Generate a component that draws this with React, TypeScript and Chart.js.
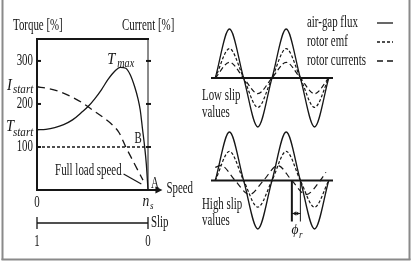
import React, { useEffect, useRef } from "react";
import { Chart, registerables } from "chart.js";
Chart.register(...registerables);

const W = 412;
const H = 262;
const SERIF = '"Liberation Serif", "DejaVu Serif", serif';
const INK = "#161616";
const FRAME = "#8a8a8a";

// ---------- torque / current vs speed ----------
const speedPct = [0, 8, 16, 24, 32, 40, 46, 52, 58, 64, 70, 75, 80, 84, 88, 91, 93, 95, 97, 98.5, 100];
const torquePct = [140, 141, 145, 152, 163, 180, 194, 212, 233, 257, 276, 285, 283, 268, 240, 212, 186, 143, 100, 60, 0];
const currentSpeedPct = [0, 10, 20, 30, 40, 50, 60, 68, 74, 80, 86, 91, 95.5];
const currentPct = [240, 236, 229, 218, 204, 186, 168, 151, 133, 100, 70, 45, 23];
const fullLoadSpeedRange = [0, 100];
const fullLoadTorque = 100;
const leftTicks = [100, 200, 300];
const rightTicks = [100, 200, 300];
const speedAxisEnd = 113;
const pointerFrom = { x: 78, y: 37 };
const pointerTo = { x: 94, y: 14 };
const slipTicks = ["1", "0"];

// ---------- rotor field waveforms ----------
const quarterTurns = [0, 1, 2, 3, 4, 5, 6, 7, 8];
const fluxLow = [0, 100, 0, -100, 0, 100, 0, -100, 0];
const emfLow = [0, 60, 0, -60, 0, 60, 0, -60, 0];
const currentLow = [0, 32, 0, -32, 0, 32, 0, -32, 0];
const fluxHigh = [0, 100, 0, -100, 0, 100, 0, -100, 0];
const emfHigh = [0, 60, 0, -55, 0, 60, 0, -55, 0];
const currentHighTurns = [0, 0.4, 1.4, 2.4, 3.4, 4.4, 5.4, 6.4, 7.4, 7.8];
const currentHigh = [27, 31, 0, -29, 0, 31, 0, -29, 0, 17];
const phaseMarks = [5.4, 6];
const legendLabels = ["air-gap flux", "rotor emf", "rotor currents"];
const legendDashes = [[], [3, 2], [6, 4]];

const pts = (xs: number[], ys: number[]) => xs.map((x, i) => ({ x, y: ys[i] }));

function txt(ctx: CanvasRenderingContext2D, s: string, x: number, y: number, o: any = {}) {
  const size = o.size ?? 16;
  const sx = o.sx ?? 0.68;
  const align = o.align ?? "left";
  ctx.save();
  ctx.font = `${o.italic ? "italic " : ""}${size}px ${SERIF}`;
  ctx.textBaseline = "middle";
  ctx.fillStyle = INK;
  const w = ctx.measureText(s).width * sx;
  const left = align === "left" ? x : align === "center" ? x - w / 2 : x - w;
  ctx.translate(left, y);
  ctx.scale(sx, 1);
  ctx.fillText(s, 0, 0);
  ctx.restore();
  return w;
}

function seg(ctx: CanvasRenderingContext2D, x1: number, y1: number, x2: number, y2: number, w = 1, dash: number[] = [], color = INK) {
  ctx.save();
  ctx.strokeStyle = color;
  ctx.lineWidth = w;
  ctx.setLineDash(dash);
  ctx.beginPath();
  ctx.moveTo(x1, y1);
  ctx.lineTo(x2, y2);
  ctx.stroke();
  ctx.restore();
}

function head(ctx: CanvasRenderingContext2D, x: number, y: number, dir: number, len = 7, half = 3.5) {
  ctx.save();
  ctx.fillStyle = INK;
  ctx.beginPath();
  ctx.moveTo(x, y);
  ctx.lineTo(x - dir * len, y - half);
  ctx.lineTo(x - dir * len, y + half);
  ctx.closePath();
  ctx.fill();
  ctx.restore();
}

const baseOptions = (padding: any, xr: number[], yr: number[]) => ({
  responsive: false,
  animation: false as const,
  devicePixelRatio: 1,
  events: [],
  layout: { padding },
  plugins: { legend: { display: false }, tooltip: { enabled: false } },
  elements: { point: { radius: 0 } },
  scales: {
    x: { type: "linear" as const, display: false, min: xr[0], max: xr[1] },
    y: { type: "linear" as const, display: false, min: yr[0], max: yr[1] },
  },
});

const ds = (data: any[], dash: number[] = [], width = 1.3) => ({
  data,
  borderColor: INK,
  borderWidth: width,
  borderDash: dash,
  pointRadius: 0,
  fill: false,
  clip: false,
  cubicInterpolationMode: "monotone" as const,
});

export default function App() {
  const r1 = useRef<HTMLCanvasElement>(null);
  const r2 = useRef<HTMLCanvasElement>(null);
  const r3 = useRef<HTMLCanvasElement>(null);

  useEffect(() => {
    const torquePlugin = {
      id: "torqueDecor",
      afterDraw(chart: any) {
        const { ctx, chartArea: ca } = chart;
        const x = chart.scales.x;
        const y = chart.scales.y;
        const y0 = y.getPixelForValue(0);
        const xl = x.getPixelForValue(0);
        const xr = x.getPixelForValue(100);
        // frame of the picture
        seg(ctx, 2.5, 0, 2.5, 260, 2, [], FRAME);
        seg(ctx, 409.5, 0, 409.5, 260, 2, [], FRAME);
        seg(ctx, 1.5, 259.5, 410.5, 259.5, 2, [], FRAME);
        // box + axes
        seg(ctx, xl - 1, ca.top, xr + 1, ca.top, 2);
        seg(ctx, xl, ca.top, xl, y0, 2);
        seg(ctx, xr, ca.top, xr, y0, 1);
        const xa = x.getPixelForValue(speedAxisEnd);
        seg(ctx, xl - 1, y0, xa - 4, y0, 2);
        head(ctx, xa, y0, 1, 7, 3.5);
        leftTicks.forEach((v) => {
          const py = y.getPixelForValue(v);
          seg(ctx, xl, py, xl + 4, py, 2);
          txt(ctx, String(v), xl - 4, py, { align: "right" });
        });
        rightTicks.forEach((v) => {
          const py = y.getPixelForValue(v);
          seg(ctx, xr - 2, py, xr + 3, py, 2);
        });
        // axis captions
        txt(ctx, "Torque [%]", 13, 26);
        txt(ctx, "Current [%]", 122, 26);
        // curve labels
        const tS = y.getPixelForValue(torquePct[0]);
        txt(ctx, "T", 6, tS - 3, { italic: true, size: 17, sx: 0.85 });
        txt(ctx, "start", 13, tS + 3, { italic: true, size: 12, sx: 0.92 });
        const iS = y.getPixelForValue(currentPct[0]);
        txt(ctx, "I", 7, iS - 1, { italic: true, size: 17, sx: 0.85 });
        txt(ctx, "start", 13, iS + 3, { italic: true, size: 12, sx: 0.92 });
        const pk = torquePct.indexOf(Math.max(...torquePct));
        const px = x.getPixelForValue(speedPct[pk]);
        const py = y.getPixelForValue(torquePct[pk]);
        txt(ctx, "T", px - 13, py - 8, { italic: true, size: 17, sx: 0.85 });
        txt(ctx, "max", px - 3, py - 4, { italic: true, size: 12, sx: 0.85 });
        const bIdx = torquePct.indexOf(fullLoadTorque);
        txt(ctx, "B", x.getPixelForValue(speedPct[bIdx]) - 3, y.getPixelForValue(fullLoadTorque) - 8, { align: "right" });
        txt(ctx, "A", xr + 3, y0 - 6);
        txt(ctx, "Speed", xa + 4, y0 - 1);
        // full-load pointer
        const f1x = x.getPixelForValue(pointerFrom.x), f1y = y.getPixelForValue(pointerFrom.y);
        const f2x = x.getPixelForValue(pointerTo.x), f2y = y.getPixelForValue(pointerTo.y);
        seg(ctx, f1x, f1y, f2x, f2y, 1.2);
        txt(ctx, "Full load speed", f1x - 2, f1y - 3, { align: "right" });
        // speed ticks
        txt(ctx, "0", xl, y0 + 13, { align: "center" });
        txt(ctx, "n", xr - 2, y0 + 12, { italic: true, size: 16, sx: 0.85, align: "center" });
        txt(ctx, "s", xr + 2, y0 + 16, { italic: true, size: 10, sx: 0.9 });
        // slip scale
        const ys = y0 + 33;
        seg(ctx, xl, ys, xr, ys, 1.5);
        seg(ctx, xl, ys - 6, xl, ys + 6, 1.3);
        seg(ctx, xr, ys - 6, xr, ys + 6, 1.3);
        txt(ctx, "Slip", xr + 3, ys);
        txt(ctx, slipTicks[0], xl, ys + 19, { align: "center" });
        txt(ctx, slipTicks[1], xr, ys + 19, { align: "center" });
      },
    };

    const lowPlugin = {
      id: "lowDecor",
      afterDraw(chart: any) {
        const { ctx, chartArea: ca } = chart;
        const y0 = chart.scales.y.getPixelForValue(0);
        seg(ctx, ca.left, y0, ca.right, y0, 2);
        txt(ctx, "Low slip", 202, y0 + 18);
        txt(ctx, "values", 202, y0 + 35);
        legendLabels.forEach((l, i) => {
          const ly = 23 + i * 19;
          txt(ctx, l, 307, ly);
          seg(ctx, 377, ly, 393, ly, 1.3, legendDashes[i]);
        });
      },
    };

    const highPlugin = {
      id: "highDecor",
      afterDraw(chart: any) {
        const { ctx, chartArea: ca } = chart;
        const x = chart.scales.x;
        const y0 = chart.scales.y.getPixelForValue(0);
        seg(ctx, ca.left, y0, ca.right, y0, 2);
        txt(ctx, "High slip", 202, y0 + 24);
        txt(ctx, "values", 202, y0 + 40);
        const a = x.getPixelForValue(phaseMarks[0]);
        const b = x.getPixelForValue(phaseMarks[1]);
        seg(ctx, a, y0, a, y0 + 41, 2);
        seg(ctx, b, y0, b, y0 + 41, 1);
        seg(ctx, a, y0 + 33, b, y0 + 33, 1);
        head(ctx, a + 0.5, y0 + 33, -1, 3.5, 2);
        head(ctx, b - 0.5, y0 + 33, 1, 3.5, 2);
        const mid = (a + b) / 2;
        txt(ctx, "\u03d5", mid - 1, y0 + 50, { italic: true, size: 15, sx: 0.9, align: "center" });
        txt(ctx, "r", mid + 3, y0 + 55, { italic: true, size: 10, sx: 0.9 });
      },
    };

    const c1 = new Chart(r1.current!, {
      type: "line",
      data: {
        datasets: [
          ds(pts(speedPct, torquePct), [], 1.3),
          ds(pts(currentSpeedPct, currentPct), [8, 5], 1.3),
          { ...ds(pts(fullLoadSpeedRange, [fullLoadTorque, fullLoadTorque]), [3, 2], 1.6), cubicInterpolationMode: "default" as const },
        ],
      },
      options: baseOptions({ left: 37, right: W - 148, top: 39, bottom: H - 190 }, [0, 100], [0, 351]) as any,
      plugins: [torquePlugin],
    });

    const c2 = new Chart(r2.current!, {
      type: "line",
      data: {
        datasets: [
          ds(pts(quarterTurns, fluxLow), [], 1.3),
          ds(pts(quarterTurns, emfLow), [3, 2], 1.2),
          ds(pts(quarterTurns, currentLow), [5, 3], 1.2),
        ],
      },
      options: baseOptions({ left: 211, right: W - 333, top: 29, bottom: H - 127 }, [-0.3, 8.3], [-100, 100]) as any,
      plugins: [lowPlugin],
    });

    const c3 = new Chart(r3.current!, {
      type: "line",
      data: {
        datasets: [
          ds(pts(quarterTurns, fluxHigh), [], 1.3),
          ds(pts(quarterTurns, emfHigh), [3, 2], 1.2),
          ds(pts(currentHighTurns, currentHigh), [6, 4], 1.2),
        ],
      },
      options: baseOptions({ left: 211, right: W - 333, top: 132, bottom: H - 229 }, [-0.3, 8.3], [-100, 100]) as any,
      plugins: [highPlugin],
    });

    return () => {
      c1.destroy();
      c2.destroy();
      c3.destroy();
    };
  }, []);

  const cs: React.CSSProperties = { position: "absolute", left: 0, top: 0 };
  return (
    <div style={{ position: "fixed", left: 0, top: 0, width: W, height: H, background: "#fff" }}>
      <canvas ref={r1} width={W} height={H} style={cs} />
      <canvas ref={r2} width={W} height={H} style={cs} />
      <canvas ref={r3} width={W} height={H} style={cs} />
    </div>
  );
}
